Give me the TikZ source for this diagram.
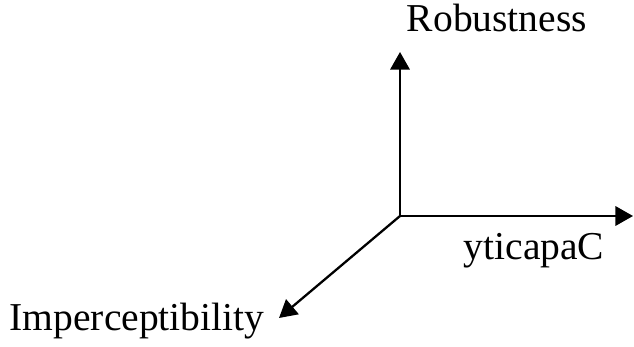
\documentclass[tikz,border=0pt]{standalone}
\usepackage{fontspec}
\setmainfont{Liberation Serif}
\usepackage{tikz}
\usetikzlibrary{arrows.meta}
\tikzset{
  axis_label/.style = {inner sep=0pt, anchor=base, black,
    font=\fontsize{22.5}{27}\selectfont},% nom d'un axe
  axis_line/.style = {draw=black, line width=1.3pt,
    -{Triangle[length=10pt, width=11pt]}}% axe avec fleche
}
\begin{document}
\begin{tikzpicture}[x=0.02cm, y=-0.02cm]
    \useasboundingbox (0,0) rectangle (634,347);
    \coordinate (origin) at (400,216);
    \coordinate (robust_end) at (400,52);
    \coordinate (capa_end) at (633,216);
    \coordinate (imper_end) at (279,318);
    \node [axis_label] (robust) at (497,32) {Robustness};
    \node [axis_label] (capa) at (534,259) {yticapaC};
    \node [axis_label] (imper) at (137,330) {Imperceptibility};
    \draw [axis_line] (origin) -- (robust_end);
    \draw [axis_line] (origin) -- (capa_end);
    \draw [axis_line] (origin) -- (imper_end);
  \end{tikzpicture}
\end{document}
